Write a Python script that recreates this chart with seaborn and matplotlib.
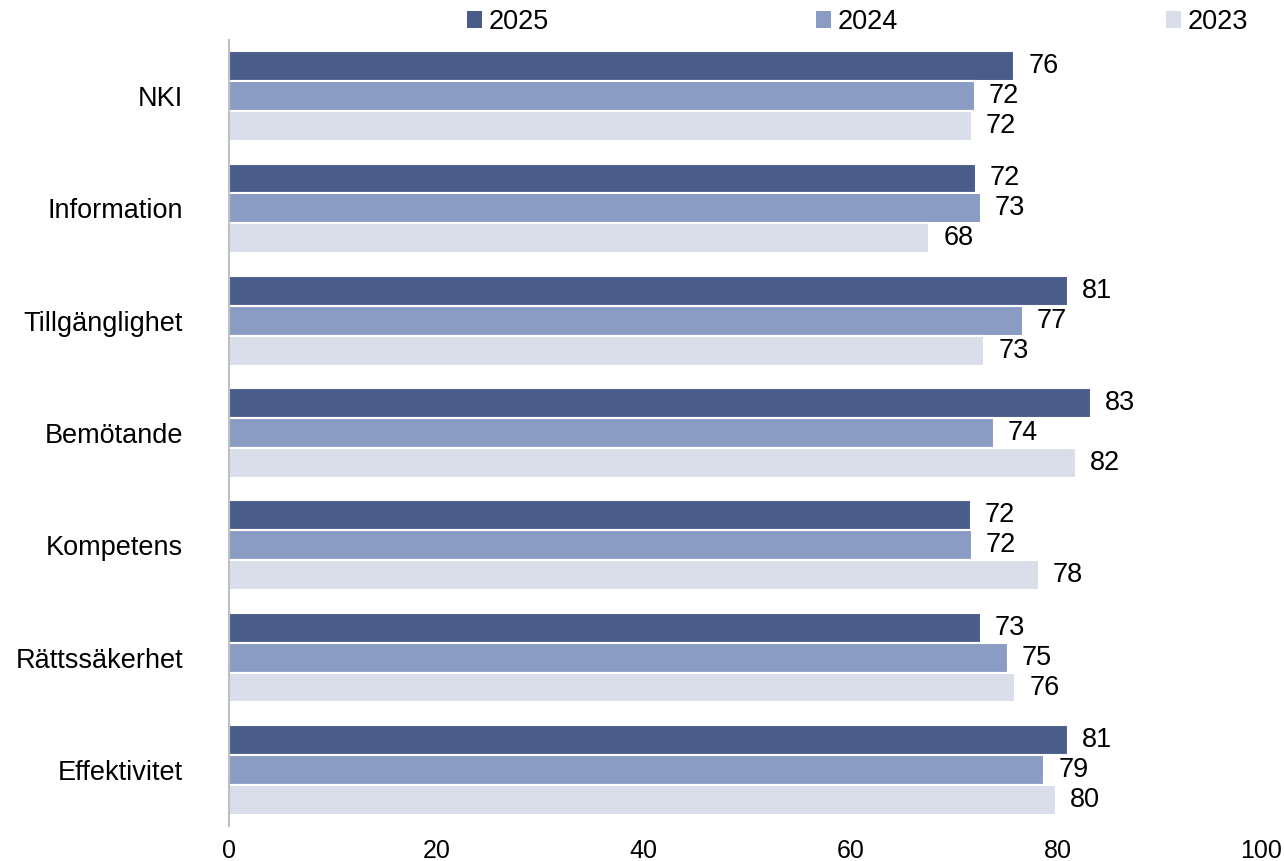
import matplotlib
matplotlib.use("Agg")
import matplotlib.pyplot as plt
import matplotlib.transforms as mtransforms
import seaborn as sns
import pandas as pd
from matplotlib.patches import Patch

categories = ["NKI", "Information", "Tillgänglighet", "Bemötande", "Kompetens", "Rättssäkerhet", "Effektivitet"]
years = ["2025", "2024", "2023"]
values_2025 = [75.8, 72.1, 81.0, 83.2, 71.6, 72.6, 81.0]
values_2024 = [72.0, 72.6, 76.6, 73.8, 71.7, 75.2, 78.7]
values_2023 = [71.7, 67.6, 72.9, 81.8, 78.2, 75.9, 79.8]
colors = ["#4A5D8A", "#8A9CC4", "#D9DEEA"]
xticks = [0, 20, 40, 60, 80, 100]

sns.set_theme(style="white")
plt.rcParams["font.family"] = ["Liberation Sans", "DejaVu Sans"]

rows = []
for year, vals in zip(years, [values_2025, values_2024, values_2023]):
    for c, v in zip(categories, vals):
        rows.append({"Kategori": c, "Värde": v, "År": year})
df = pd.DataFrame(rows)

fig = plt.figure(figsize=(12.84, 8.61), dpi=100)
ax = fig.add_axes([229/1284, 1 - 826/861, (1265 - 229)/1284, (826 - 40)/861])

sns.barplot(data=df, y="Kategori", x="Värde", hue="År", order=categories, hue_order=years,
            palette=colors, saturation=1, orient="h", width=0.8, edgecolor="white", linewidth=1.5,
            errorbar=None, ax=ax, legend=False)

for cont in ax.containers:
    ax.bar_label(cont, fmt="%.0f", padding=10, fontsize=19.5, color="black")

ax.set_xlim(0, 100)
ax.set_ylim(6.5, -0.5)
ax.set_xticks(xticks)
ax.set_xticklabels([str(t) for t in xticks])
ax.set_xlabel("")
ax.set_ylabel("")
ax.tick_params(axis="y", length=0, pad=33, labelsize=19.5, colors="black")
ax.tick_params(axis="x", length=0, pad=9, labelsize=18, colors="black")
last = ax.get_xticklabels()[-1]
last.set_transform(last.get_transform() + mtransforms.ScaledTranslation(-4/100, 0, fig.dpi_scale_trans))
for s in ["top", "right", "bottom"]:
    ax.spines[s].set_visible(False)
ax.spines["left"].set_color("#BFBFBF")
ax.spines["left"].set_linewidth(1.5)
ax.grid(False)

handles = [Patch(facecolor=c, edgecolor="none", label=y) for c, y in zip(colors, years)]
fig.legend(handles=handles, loc="center", ncol=3, mode="expand",
           bbox_to_anchor=(467/1284, 1 - 38/861, (1248 - 467)/1284, 32/861),
           frameon=False, fontsize=19.5, handlelength=0.55, handleheight=0.55,
           handletextpad=0.25, borderaxespad=0, borderpad=0, labelcolor="black")

fig.savefig("out.png", dpi=100)
